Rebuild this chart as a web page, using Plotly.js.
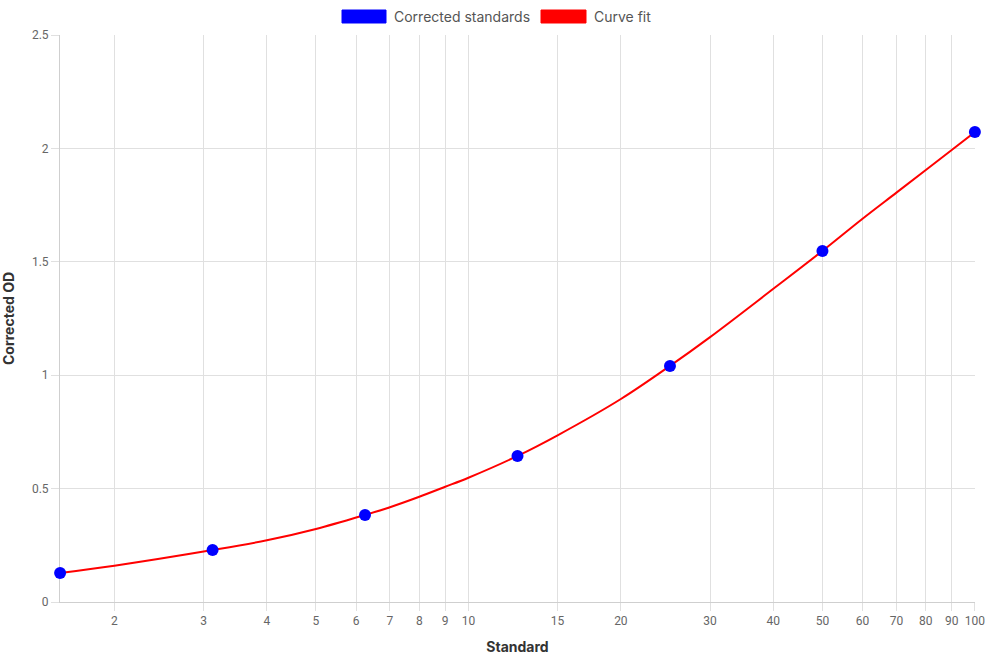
<!DOCTYPE html>
<html>
<head>
<meta charset="utf-8">
<script src="https://cdn.plot.ly/plotly-3.0.1.min.js"></script>
<style>html,body{margin:0;padding:0;background:#fff;}#chart{width:990px;height:660px;}</style>
</head>
<body>
<div id="chart"></div>
<script>
const standardX = [1.5625, 3.125, 6.25, 12.5, 25, 50, 100];
const standardOD = [0.128, 0.229, 0.384, 0.644, 1.041, 1.548, 2.072];
const fitX = [1.5625, 2, 3.125, 4, 5, 6.25, 7, 8, 9, 10, 12.5, 15, 20, 25, 30, 40, 50, 60, 70, 80, 90, 100];
const fitOD = [0.128, 0.160, 0.229, 0.272, 0.322, 0.384, 0.418, 0.464, 0.508, 0.548, 0.644, 0.735, 0.895, 1.041, 1.168, 1.381, 1.548, 1.69, 1.805, 1.905, 1.993, 2.072];
const xTicks = [2, 3, 4, 5, 6, 7, 8, 9, 10, 15, 20, 30, 40, 50, 60, 70, 80, 90, 100];
const xTickText = ["2","3","4","5","6","7","8","9","10","15","20","30","40","50","60","70","80","90","100"];
const yTicks = [0, 0.5, 1, 1.5, 2, 2.5];
const yTickText = ["0","0.5","1","1.5","2","2.5"];
const legendNames = ["Corrected standards", "Curve fit"];

const tickFont = {family: "Roboto, 'Liberation Sans', Arial, sans-serif", size: 12, color: "#666"};
const titleFont = {family: "Inter, 'Open Sans', sans-serif", size: 14, color: "#333", weight: 700};
const legendFont = {family: "Inter, 'Open Sans', sans-serif", size: 14, color: "#555"};

const traces = [
  {x: fitX, y: fitOD, type: "scatter", mode: "lines", name: legendNames[1],
   line: {color: "#ff0000", width: 2, shape: "spline", smoothing: 1}, cliponaxis: false, showlegend: false, hoverinfo: "skip"},
  {x: standardX, y: standardOD, type: "scatter", mode: "markers", name: legendNames[0],
   marker: {color: "#0000ff", size: 12}, cliponaxis: false, showlegend: false}
];

const layout = {
  width: 990, height: 660,
  margin: {l: 60, r: 15, t: 35, b: 58},
  paper_bgcolor: "#fff", plot_bgcolor: "#fff",
  showlegend: false,
  xaxis: {
    type: "log",
    range: [Math.log10(1.5625) - 0.0002, 2.0002],
    tickvals: xTicks, ticktext: xTickText,
    tickfont: tickFont,
    ticks: "outside", ticklen: 8, tickcolor: "#e0e0e0",
    showgrid: true, gridcolor: "#e0e0e0", gridwidth: 1,
    showline: true, linecolor: "#cfcfcf", linewidth: 1,
    zeroline: false, layer: "below traces",
    title: {text: "Standard", font: titleFont, standoff: 14}
  },
  yaxis: {
    range: [0, 2.5],
    tickvals: yTicks, ticktext: yTickText,
    tickfont: tickFont,
    ticks: "outside", ticklen: 8, tickcolor: "#e0e0e0",
    showgrid: true, gridcolor: "#e0e0e0", gridwidth: 1,
    showline: true, linecolor: "#cfcfcf", linewidth: 1,
    zeroline: false, layer: "below traces",
    title: {text: "Corrected OD", font: titleFont, standoff: 16}
  },
  shapes: [
    {type: "rect", xref: "paper", yref: "paper", x0: (342-60)/915, x1: (386-60)/915, y0: (602-23)/567, y1: (602-10)/567,
     fillcolor: "#0000ff", line: {color: "#0000ff", width: 1}},
    {type: "rect", xref: "paper", yref: "paper", x0: (541-60)/915, x1: (586-60)/915, y0: (602-23)/567, y1: (602-10)/567,
     fillcolor: "#ff0000", line: {color: "#ff0000", width: 1}}
  ],
  annotations: [
    {xref: "paper", yref: "paper", x: (392-60)/915, y: (602-16.5)/567, xanchor: "left", yanchor: "middle",
     text: legendNames[0], showarrow: false, font: legendFont},
    {xref: "paper", yref: "paper", x: (592-60)/915, y: (602-16.5)/567, xanchor: "left", yanchor: "middle",
     text: legendNames[1], showarrow: false, font: legendFont}
  ]
};

Plotly.newPlot("chart", traces, layout, {displayModeBar: false, staticPlot: true});
</script>
</body>
</html>
